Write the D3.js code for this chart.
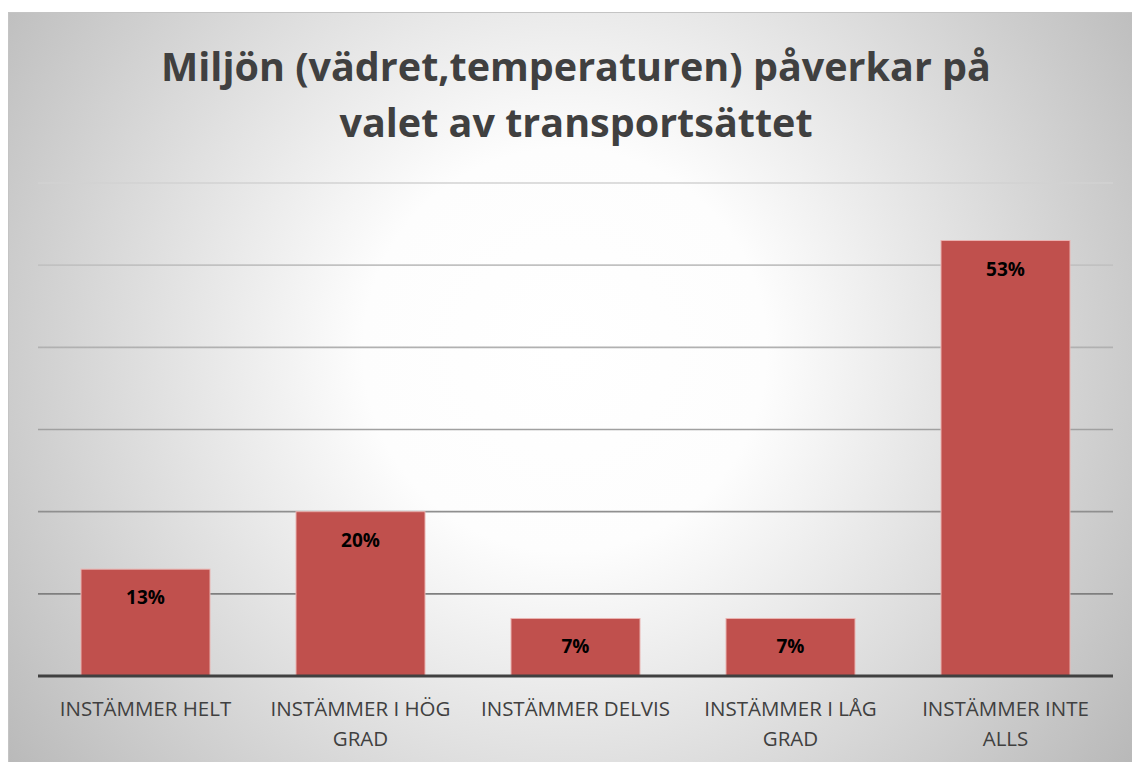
<!DOCTYPE html>
<html>
<head>
<meta charset="utf-8">
<script src="https://cdn.jsdelivr.net/npm/d3@7"></script>
<style>
  body { margin: 0; background: #fff; }
  svg { display: block; }
</style>
</head>
<body>
<div id="chart"></div>
<script>
var categories = [["INSTÄMMER HELT"], ["INSTÄMMER I HÖG", "GRAD"], ["INSTÄMMER DELVIS"], ["INSTÄMMER I LÅG", "GRAD"], ["INSTÄMMER INTE", "ALLS"]],
    values = [13, 20, 7, 7, 53],
    yTicks = [0, 10, 20, 30, 40, 50, 60],
    titleLines = ["Miljön (vädret,temperaturen) påverkar på", "valet av transportsättet"];

var width = 1132, height = 762,
    margin = {top: 183, bottom: 86, left: 38, right: 19};

var svg = d3.select("#chart").append("svg")
  .attr("width", width)
  .attr("height", height);

var defs = svg.append("defs");

// background radial fill, white in the middle
var bg = defs.append("radialGradient")
  .attr("id", "bg")
  .attr("gradientUnits", "userSpaceOnUse")
  .attr("cx", 565).attr("cy", 350).attr("r", 720);
bg.append("stop").attr("offset", "0%").attr("stop-color", "#ffffff");
bg.append("stop").attr("offset", "28%").attr("stop-color", "#fdfdfd");
bg.append("stop").attr("offset", "100%").attr("stop-color", "#b6b6b6");

// gridlines get darker towards the bottom
var gg = defs.append("linearGradient")
  .attr("id", "grid")
  .attr("gradientUnits", "userSpaceOnUse")
  .attr("x1", 0).attr("x2", 0).attr("y1", 183).attr("y2", 676);
gg.append("stop").attr("offset", "0%").attr("stop-color", "#d2d2d2");
gg.append("stop").attr("offset", "100%").attr("stop-color", "#6e6e6e");

svg.append("rect")
  .attr("x", 8.5).attr("y", 12.5)
  .attr("width", width).attr("height", height)
  .attr("fill", "url(#bg)")
  .attr("stroke", "#c4c4c4");

var x = d3.scaleBand()
  .domain(d3.range(categories.length))
  .range([margin.left, width - margin.right])
  .paddingInner(0.4)
  .paddingOuter(0.2);

var y = d3.scaleLinear()
  .domain([0, 60])
  .range([height - margin.bottom, margin.top]);

// title
svg.append("text")
  .attr("text-anchor", "middle")
  .style("font", "bold 39.5px 'Open Sans'")
  .attr("fill", "#404040")
  .selectAll("tspan")
  .data(titleLines)
  .enter().append("tspan")
  .attr("x", 576)
  .attr("y", (d, i) => 81 + i * 56)
  .text(d => d);

// gridlines
svg.append("g")
  .selectAll("line")
  .data(yTicks.slice(1))
  .enter().append("line")
  .attr("x1", margin.left).attr("x2", width - margin.right)
  .attr("y1", d => y(d)).attr("y2", d => y(d))
  .attr("stroke", "url(#grid)")
  .attr("stroke-width", 1.6);

// bars
svg.append("g")
  .selectAll("rect")
  .data(values)
  .enter().append("rect")
  .attr("x", (d, i) => x(i))
  .attr("y", d => y(d))
  .attr("width", x.bandwidth())
  .attr("height", d => y(0) - y(d))
  .attr("fill", "#c0504d")
  .attr("stroke", "#eab3b1")
  .attr("stroke-width", 1);

// value labels
svg.append("g")
  .selectAll("text")
  .data(values)
  .enter().append("text")
  .attr("x", (d, i) => x(i) + x.bandwidth() / 2)
  .attr("y", d => y(d) + 35)
  .attr("text-anchor", "middle")
  .style("font", "bold 19px 'Open Sans'")
  .attr("fill", "#000")
  .text(d => d + "%");

// axis line
svg.append("line")
  .attr("x1", margin.left).attr("x2", width - margin.right)
  .attr("y1", y(0)).attr("y2", y(0))
  .attr("stroke", "#404040")
  .attr("stroke-width", 3);

// category labels
var lab = svg.append("g")
  .selectAll("text")
  .data(categories)
  .enter().append("text")
  .attr("text-anchor", "middle")
  .style("font", "20.5px 'Open Sans'")
  .attr("fill", "#404040");

lab.selectAll("tspan")
  .data((d, i) => d.map(t => ({t: t, i: i})))
  .enter().append("tspan")
  .attr("x", d => x(d.i) + x.bandwidth() / 2)
  .attr("y", (d, j) => 716 + j * 30)
  .text(d => d.t);
</script>
</body>
</html>
